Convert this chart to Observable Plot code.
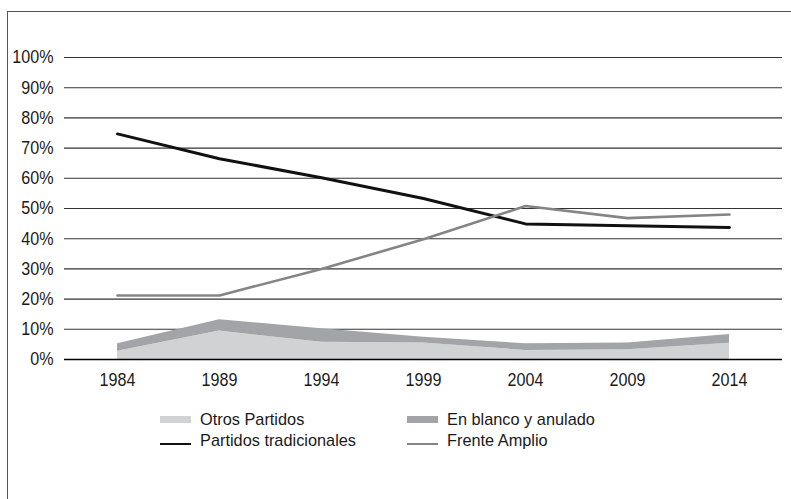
<!DOCTYPE html>
<html>
<head>
<meta charset="utf-8">
<script src="https://cdn.jsdelivr.net/npm/d3@7"></script>
<script src="https://cdn.jsdelivr.net/npm/@observablehq/plot@0.6"></script>
<style>
  html, body { margin: 0; padding: 0; background: #fff; overflow: hidden; }
  body { width: 791px; height: 499px; position: relative; font-family: 'Liberation Sans', Arial, sans-serif; }
  #frame { position: absolute; left: 7px; top: 11px; width: 1000px; height: 1000px; border-left: 1.5px solid #555; border-top: 1.5px solid #555; }
  #chart { position: absolute; left: 0; top: 0; }
  .sw { position: absolute; }
  .lt { position: absolute; font-size: 17px; line-height: 20px; color: #1a1a1a; white-space: nowrap; transform: scaleX(0.96); transform-origin: 0 50%; }
</style>
</head>
<body>
<div id="frame"></div>
<div id="chart"></div>
<div id="legend"></div>
<script>
// ---- data (percent of votes) ----
const years = ["1984", "1989", "1994", "1999", "2004", "2009", "2014"];
const partidosTradicionales = [74.7, 66.5, 60.2, 53.3, 44.9, 44.3, 43.7];
const frenteAmplio = [21.2, 21.2, 30.0, 39.8, 50.8, 46.8, 48.0];
const otrosPartidos = [2.7, 9.4, 5.7, 5.5, 3.0, 3.2, 5.4];
const enBlancoAnulado = [2.5, 3.8, 4.5, 1.9, 2.2, 2.3, 2.9];
const yTicks = [0, 10, 20, 30, 40, 50, 60, 70, 80, 90, 100];
const seriesNames = ["Otros Partidos", "En blanco y anulado", "Partidos tradicionales", "Frente Amplio"];

const colLight = "#d1d2d4", colDark = "#a3a4a8", colBlack = "#111111", colGray = "#858585";

const areaData = [];
years.forEach((y, i) => {
  areaData.push({year: y, series: seriesNames[0], value: otrosPartidos[i]});
  areaData.push({year: y, series: seriesNames[1], value: enBlancoAnulado[i]});
});
const tradData = years.map((y, i) => ({year: y, value: partidosTradicionales[i]}));
const faData = years.map((y, i) => ({year: y, value: frenteAmplio[i]}));

const chart = Plot.plot({
  width: 791,
  height: 395,
  marginLeft: 64,
  marginRight: 9,
  marginTop: 57,
  marginBottom: 36,
  style: {fontFamily: "'Liberation Sans', Arial, sans-serif", fontSize: "18.5px", color: "#1a1a1a", background: "transparent", overflow: "visible"},
  x: {type: "point", domain: years, padding: 0.5, label: null, tickSize: 0, tickPadding: 13},
  y: {domain: [0, 100], ticks: yTicks, tickFormat: d => d + "%", label: null, tickSize: 0, tickPadding: 11},
  color: {domain: [seriesNames[0], seriesNames[1]], range: [colLight, colDark]},
  marks: [
    Plot.ruleY(yTicks, {stroke: "#333", strokeWidth: 1.1}),
    Plot.areaY(areaData, {x: "year", y: "value", fill: "series"}),
    Plot.ruleY([0], {stroke: "#000", strokeWidth: 1.3}),
    Plot.lineY(tradData, {x: "year", y: "value", stroke: colBlack, strokeWidth: 3}),
    Plot.lineY(faData, {x: "year", y: "value", stroke: colGray, strokeWidth: 2.6})
  ]
});
document.getElementById("chart").appendChild(chart);

// condense the tick labels (the original uses a condensed typeface)
chart.querySelectorAll("g[aria-label$='tick label'] text").forEach(t => {
  const w = t.getComputedTextLength();
  if (w > 0) {
    t.setAttribute("textLength", (w * 0.87).toFixed(2));
    t.setAttribute("lengthAdjust", "spacingAndGlyphs");
  }
});

// ---- legend (HTML below the chart area) ----
const legend = document.getElementById("legend");
const items = [
  {name: seriesNames[0], kind: "area", color: colLight, x: 160, row: 0},
  {name: seriesNames[1], kind: "area", color: colDark, x: 407, row: 0},
  {name: seriesNames[2], kind: "line", color: colBlack, x: 160, row: 1},
  {name: seriesNames[3], kind: "line", color: colGray, x: 407, row: 1}
];
items.forEach(it => {
  const top = 410 + it.row * 20.5;
  const sw = document.createElement("div");
  sw.className = "sw";
  sw.style.left = it.x + "px";
  sw.style.width = "31px";
  sw.style.background = it.color;
  if (it.kind === "area") { sw.style.top = (top + 6) + "px"; sw.style.height = "6.5px"; }
  else { sw.style.top = (top + 12) + "px"; sw.style.height = (it.color === colBlack ? 2.6 : 2.2) + "px"; }
  legend.appendChild(sw);
  const t = document.createElement("div");
  t.className = "lt";
  t.style.left = (it.x + 40) + "px";
  t.style.top = top + "px";
  t.textContent = it.name;
  legend.appendChild(t);
});
</script>
</body>
</html>
